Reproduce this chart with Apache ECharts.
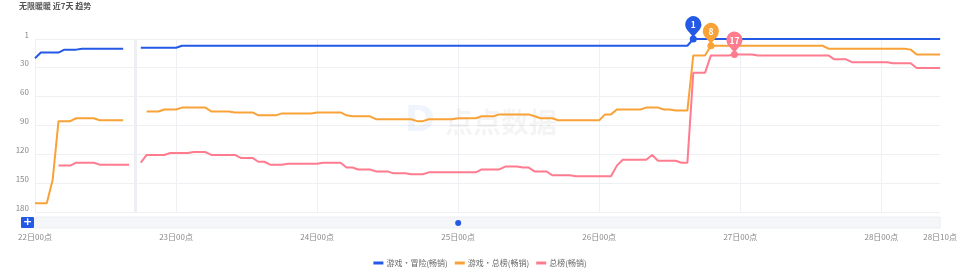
<!DOCTYPE html>
<html>
<head>
<meta charset="utf-8">
<script src="https://cdn.jsdelivr.net/npm/echarts@6/dist/echarts.min.js"></script>
<style>
html,body{margin:0;padding:0;background:#fff;}
#chart{width:960px;height:274px;}
</style>
</head>
<body>
<div id="chart"></div>
<script>
// ---- data ----
const titleText = '无限暖暖 近7天 趋势';
const days = [22, 23, 24, 25, 26, 27, 28];
const lastDayHours = 11; // 28日00点..28日10点
const seriesNames = ['游戏·冒险(畅销)', '游戏·总榜(畅销)', '总榜(畅销)'];
const yTicks = [1, 30, 60, 90, 120, 150, 180];
const eventLabel = '25日00点';

// hourly ranks, one row per day (00点..23点)
const adventureRank = [
  21,15,15,15,15,12,12,12,11,11,11,11,11,11,11,11,null,null,10,10,10,10,10,10,
  10,8,8,8,8,8,8,8,8,8,8,8,8,8,8,8,8,8,8,8,8,8,8,8,
  8,8,8,8,8,8,8,8,8,8,8,8,8,8,8,8,8,8,8,8,8,8,8,8,
  8,8,8,8,8,8,8,8,8,8,8,8,8,8,8,8,8,8,8,8,8,8,8,8,
  8,8,8,8,8,8,8,8,8,8,8,8,8,8,8,8,1,1,1,1,1,1,1,1,
  1,1,1,1,1,1,1,1,1,1,1,1,1,1,1,1,1,1,1,1,1,1,1,1,
  1,1,1,1,1,1,1,1,1,1,1
];
const gameRank = [
  171,171,171,147,86,86,86,83,83,83,83,85,85,85,85,85,null,null,null,76,76,76,74,74,
  74,72,72,72,72,72,76,76,76,76,77,77,77,77,80,80,80,80,78,78,78,78,78,78,
  77,77,77,77,77,80,81,81,81,81,84,84,84,84,84,84,84,86,86,84,84,84,84,84,
  83,83,83,83,81,81,81,79,79,79,79,79,79,81,83,83,83,85,85,85,85,85,85,85,
  85,79,79,74,74,74,74,74,72,72,72,74,74,75,75,75,18,18,18,8,8,8,8,8,
  8,8,8,8,8,8,8,8,8,8,8,8,8,8,8,11,11,11,11,11,11,11,11,11,
  11,11,11,11,11,12,17,17,17,17,17
];
const overallRank = [
  null,null,null,null,132,132,132,129,129,129,129,131,131,131,131,131,131,null,129,121,121,121,121,119,
  119,119,119,118,118,118,121,121,121,121,121,124,124,124,128,128,131,131,131,130,130,130,130,130,
  130,129,129,129,129,134,134,136,136,136,138,138,138,140,140,140,141,141,141,139,139,139,139,139,
  139,139,139,139,136,136,136,136,133,133,133,134,134,138,138,138,142,142,142,142,143,143,143,143,
  143,143,143,132,126,126,126,126,126,121,127,127,127,127,129,129,36,36,36,18,18,18,18,17,
  17,17,17,18,18,18,18,18,18,18,18,18,18,18,18,18,22,22,22,25,25,25,25,25,
  25,25,26,26,26,26,31,31,31,31,31
];

// hourly category labels
const hourLabels = [];
days.forEach((d, i) => {
  const n = i === days.length - 1 ? lastDayHours : 24;
  for (let h = 0; h < n; h++) hourLabels.push(d + '日' + String(h).padStart(2, '0') + '点');
});
const lastIdx = hourLabels.length - 1;

// ---- chart ----
const colors = ['#2459e6', '#f9a237', '#ff7b8e'];
const FONT = '"Noto Sans CJK SC", "Noto Sans", sans-serif';
const chart = echarts.init(document.getElementById('chart'), null, {renderer: 'canvas'});

function mkSeries(name, data, color) {
  return {
    name, type: 'line', data, connectNulls: false,
    showSymbol: false, symbol: 'circle',
    lineStyle: {width: 2, color}, itemStyle: {color},
    emphasis: {disabled: true},
    markPoint: {
      silent: true,
      data: [
        {type: 'min', symbol: 'circle', symbolSize: 7, label: {show: false}},
        {type: 'min', symbol: 'pin', symbolSize: [27, 28], symbolOffset: [0, 1.5],
          label: {show: true, color: '#fff', fontSize: 8.5, fontWeight: 'bold', fontFamily: FONT, offset: [0, -1]}}
      ],
      itemStyle: {color}
    }
  };
}

// gap marker: hour where every series is missing
const gapIdx = hourLabels.findIndex((_, i) => adventureRank[i] == null && gameRank[i] == null && overallRank[i] == null);

chart.setOption({
  animation: false,
  textStyle: {fontFamily: FONT},
  title: {text: titleText, left: 19, top: 2, padding: 0, textStyle: {fontSize: 8, color: '#555', fontWeight: 'bold', fontFamily: FONT}},
  grid: {left: 35, right: 15, top: 39, bottom: 62, containLabel: false},
  legend: {
    data: seriesNames, top: 254, left: 'center', icon: 'rect', itemWidth: 10, itemHeight: 3, itemGap: 7,
    textStyle: {fontSize: 8, color: '#666', fontFamily: FONT, padding: [0, 0, 0, -2]}
  },
  xAxis: {
    type: 'category', boundaryGap: false, data: hourLabels,
    axisLine: {show: false}, axisTick: {show: false},
    axisLabel: {
      interval: (i) => i % 24 === 0 || i === lastIdx,
      color: '#888', fontSize: 8, margin: 21, fontFamily: FONT
    },
    splitLine: {show: true, interval: (i) => i % 24 === 0, lineStyle: {color: '#eef0f3', width: 1}}
  },
  yAxis: {
    type: 'value', inverse: true, min: 1, max: 180,
    axisLine: {show: false},
    axisTick: {show: false, customValues: yTicks},
    axisLabel: {customValues: yTicks, color: '#888', fontSize: 8, margin: 6, verticalAlign: 'bottom', fontFamily: FONT},
    splitLine: {show: true, lineStyle: {color: '#eef0f3', width: 1}}
  },
  series: [
    Object.assign(mkSeries(seriesNames[0], adventureRank, colors[0]), {
      markLine: {
        silent: true, symbol: 'none', label: {show: false},
        lineStyle: {color: '#eeeff2', width: 3, type: 'solid'},
        data: gapIdx >= 0 ? [{xAxis: gapIdx}] : []
      }
    }),
    mkSeries(seriesNames[1], gameRank, colors[1]),
    mkSeries(seriesNames[2], overallRank, colors[2])
  ]
});

// decorations: slider band, plus button, event dot, watermark
const gridRect = chart.getModel().getComponent('grid').coordinateSystem.getRect();
const eventX = chart.convertToPixel({xAxisIndex: 0}, eventLabel);
const bandTop = gridRect.y + gridRect.height + 5;
chart.setOption({
  graphic: [
    {type: 'group', left: 405, top: 104, silent: true, z: 0, children: [
      {type: 'text', x: 0, y: 0, style: {text: 'D', font: 'bold 36px "DejaVu Sans"', fill: 'rgba(40,100,230,0.07)'}},
      {type: 'text', x: 40, y: 4, style: {text: '点点数据', font: 'bold 28px "Noto Sans CJK SC"', fill: 'rgba(0,0,0,0.045)'}}
    ]},
    {type: 'rect', shape: {x: gridRect.x, y: bandTop, width: gridRect.width, height: 11},
      style: {fill: '#f5f6f8', stroke: '#eceef2', lineWidth: 1}, silent: true},
    {type: 'rect', shape: {x: gridRect.x - 14, y: bandTop, width: 13, height: 11, r: 1},
      style: {fill: '#2459e6'}, silent: true},
    {type: 'text', x: gridRect.x - 7.5, y: bandTop + 5.5,
      style: {text: '+', fill: '#fff', font: 'bold 11px "DejaVu Sans"', align: 'center', verticalAlign: 'middle'}, silent: true},
    {type: 'circle', shape: {cx: eventX, cy: bandTop + 6, r: 3}, style: {fill: '#2459e6'}, silent: true}
  ]
});
</script>
</body>
</html>
